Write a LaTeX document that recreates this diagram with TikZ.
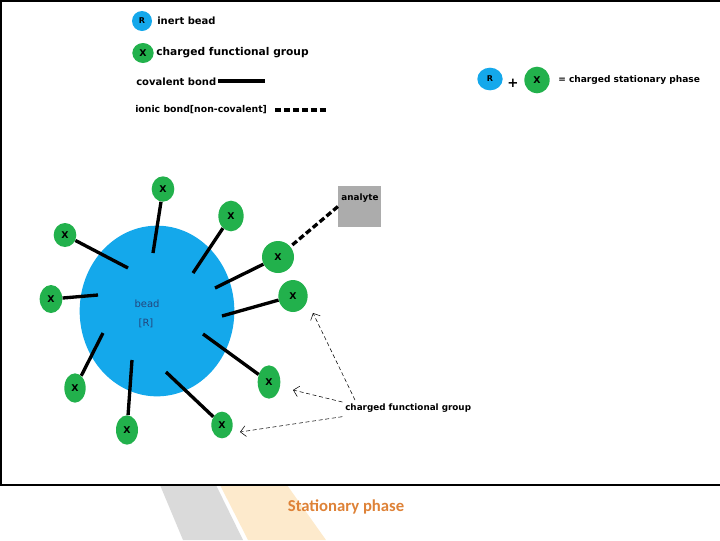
\documentclass[tikz,border=0pt]{standalone}
\usepackage{fontspec}
\setmainfont{DejaVu Sans}
\newfontfamily\headfont{Carlito}
\usepackage{tikz}
\usetikzlibrary{shapes.geometric,arrows.meta}
\definecolor{bd}{RGB}{20,168,235}
\definecolor{fg}{RGB}{34,177,76}
\definecolor{ag}{RGB}{172,172,172}
\definecolor{bt}{RGB}{35,70,125}
\definecolor{og}{RGB}{222,130,55}
\definecolor{gb}{RGB}{218,218,218}
\definecolor{pb}{RGB}{253,234,204}

\begin{document}
\begin{tikzpicture}[x=0.75pt,y=-0.75pt,
  bead/.style={ellipse,fill=bd,inner sep=0pt,minimum width=15pt,minimum height=15pt,
    font=\fontsize{6}{7}\selectfont\bfseries},
  grp/.style={ellipse,fill=fg,inner sep=0pt,minimum width=17pt,minimum height=20pt,
    font=\fontsize{7}{8}\selectfont\bfseries},
  lbl/.style={anchor=west,inner sep=0pt,font=\fontsize{7.5}{9}\selectfont\bfseries},
  sml/.style={anchor=west,inner sep=0pt,font=\fontsize{6.6}{8}\selectfont\bfseries},
  btx/.style={inner sep=0pt,text=bt,font=\fontsize{7.5}{9}\selectfont},
  bond/.style={line width=2.5pt},
  ionic/.style={line width=2.5pt,dash pattern=on 4.5pt off 2.2pt},
  arr/.style={densely dashed,line width=0.4pt,-{Straight Barb[length=4pt,width=8pt]}}]
  \useasboundingbox (0,0) rectangle (720,540);
  \clip (0,0) rectangle (720,540);
  \fill[gb] (160,485) -- (216,485) -- (243,540) -- (183,540) -- cycle;
  \fill[pb] (220,485) -- (287,485) -- (326,540) -- (248,540) -- cycle;
  \draw[line width=1.1pt] (0.8,0.8) rectangle (730,485);
  \node[font=\headfont\bfseries\fontsize{12.5}{14}\selectfont,text=og] (title) at (346,507) {Stationary phase};
  \node[bead] (rkey) at (142,21) {R};
  \node[lbl] (rtxt) at (157,21) {inert bead};
  \node[grp,minimum width=16pt,minimum height=15pt] (xkey) at (143,53) {X};
  \node[lbl,font=\fontsize{8}{9}\selectfont\bfseries] (xtxt) at (156,53) {charged functional group};
  \node[lbl] (ctxt) at (136,82) {covalent bond};
  \coordinate (c1) at (218,81);
  \coordinate (c2) at (265,81);
  \draw[bond] (c1) -- (c2);
  \node[lbl,font=\fontsize{7}{9}\selectfont\bfseries] (itxt) at (135,110) {ionic bond[non-covalent]};
  \coordinate (i1) at (275,110);
  \coordinate (i2) at (328,110);
  \draw[ionic] (i1) -- (i2);
  \node[bead,minimum width=19pt,minimum height=17pt] (req) at (490,79) {R};
  \node[font=\bfseries\fontsize{10}{12}\selectfont,inner sep=0pt] (plus) at (513,83) {+};
  \node[grp,minimum width=19pt,minimum height=20pt] (xeq) at (537,80) {X};
  \node[sml,font=\fontsize{6.8}{8}\selectfont\bfseries] (eqtxt) at (558,80) {= charged stationary phase};
  \node[ellipse,fill=bd,minimum width=116pt,minimum height=128pt] (core) at (157,311) {};
  \node[btx] (btxt) at (147,304) {bead};
  \node[btx] (rtag) at (146,323) {[R]};
  \node[grp,minimum width=17pt,minimum height=19pt] (x1) at (163,189) {X};
  \node[grp,minimum width=19pt,minimum height=23pt] (x2) at (231,216) {X};
  \node[grp,minimum width=17pt,minimum height=18pt] (x3) at (65,235) {X};
  \node[grp,minimum width=24pt,minimum height=24pt] (x4) at (278,257) {X};
  \node[grp,minimum width=22pt,minimum height=24pt] (x5) at (293,296) {X};
  \node[grp,minimum width=17pt,minimum height=21pt] (x6) at (51,299) {X};
  \node[grp,minimum width=17pt,minimum height=25pt] (x7) at (269,382) {X};
  \node[grp,minimum width=16pt,minimum height=22pt] (x8) at (75,388) {X};
  \node[grp,minimum width=16pt,minimum height=20pt] (x9) at (222,425) {X};
  \node[grp,minimum width=16.5pt,minimum height=22pt] (x10) at (127,430) {X};
  \coordinate (s1) at (153,253);
  \coordinate (s2) at (193,273);
  \coordinate (s3) at (128,268);
  \coordinate (s4) at (215,288);
  \coordinate (s5) at (222,316);
  \coordinate (s6) at (98,295);
  \coordinate (s7) at (203,334);
  \coordinate (s8) at (103,333);
  \coordinate (s9) at (166,372);
  \coordinate (s10) at (132,360);
  \draw[bond] (s1) -- (x1);
  \draw[bond] (s2) -- (x2);
  \draw[bond] (s3) -- (x3);
  \draw[bond] (s4) -- (x4);
  \draw[bond] (s5) -- (x5);
  \draw[bond] (s6) -- (x6);
  \draw[bond] (s7) -- (x7);
  \draw[bond] (s8) -- (x8);
  \draw[bond] (s9) -- (x9);
  \draw[bond] (s10) -- (x10);
  \node[fill=ag,inner sep=0pt,minimum width=32pt,minimum height=31pt] (ana) at (359.5,206.5) {};
  \node[sml,anchor=center] (atxt) at (360,198) {analyte};
  \draw[ionic] (ana.west) -- (x4);
  \node[sml] (cfg) at (345,408) {charged functional group};
  \coordinate (t5) at (313,313);
  \coordinate (t7) at (293,390);
  \coordinate (t9) at (240,432);
  \draw[arr] ([xshift=7.5pt,yshift=6pt]cfg.west) -- (t5);
  \draw[arr] ([xshift=-2pt,yshift=4.5pt]cfg.west) -- (t7);
  \draw[arr] ([xshift=-2pt,yshift=-6.5pt]cfg.west) -- (t9);
\end{tikzpicture}
\end{document}
